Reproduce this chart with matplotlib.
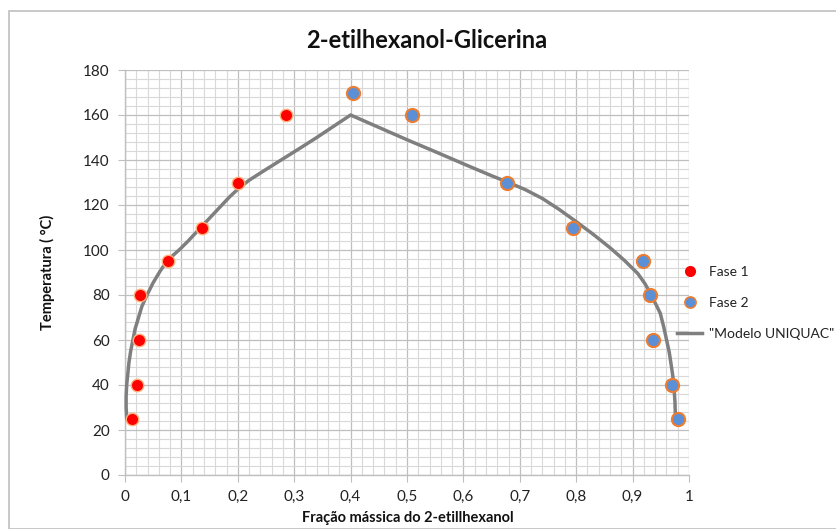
import matplotlib
matplotlib.use("Agg")
import matplotlib.pyplot as plt
from matplotlib.ticker import MultipleLocator, FuncFormatter
from matplotlib.lines import Line2D
from matplotlib.patches import Rectangle

plt.rcParams['font.family'] = ['Lato', 'DejaVu Sans']

# Data
fase1_x = [0.012, 0.021, 0.025, 0.027, 0.077, 0.137, 0.201, 0.286]
fase1_y = [25, 40, 60, 80, 95, 110, 130, 160]
fase2_x = [0.404, 0.509, 0.678, 0.795, 0.919, 0.931, 0.937, 0.969, 0.980]
fase2_y = [170, 160, 130, 110, 95, 80, 60, 40, 25]
model_x = [0.003, 0.002, 0.002, 0.003, 0.005, 0.007, 0.010, 0.014, 0.018, 0.024,
           0.030, 0.040, 0.050, 0.062, 0.074, 0.086, 0.098, 0.112, 0.125,
           0.140, 0.155, 0.170, 0.185, 0.200, 0.220, 0.250, 0.280, 0.310,
           0.340, 0.370, 0.400,
           0.450, 0.500, 0.550, 0.600, 0.650, 0.680, 0.710, 0.740, 0.770,
           0.800, 0.830, 0.860, 0.885, 0.909, 0.922, 0.932, 0.941, 0.949,
           0.955, 0.960, 0.965, 0.968, 0.971, 0.973, 0.975, 0.976]
model_y = [25, 30, 35, 40, 45, 50, 55, 60, 65, 70,
           75, 80.5, 85.5, 90.5, 95, 97.8, 100.5, 104, 107.5,
           111.5, 115.5, 119.5, 123.5, 127, 131, 135.8, 140.5, 145.2,
           150, 155, 160,
           154.5, 149, 143.7, 138.3, 133, 130, 126.8, 122.9, 118,
           112.6, 107, 101, 95.5, 89.6, 85, 80.4, 76, 71.9,
           66, 60.3, 54.5, 49.6, 44.5, 40.3, 33, 25.5]

title = "2-etilhexanol-Glicerina"
xlabel = "Fração mássica do 2-etillhexanol"
ylabel = "Temperatura ( °C)"
labels = ["Fase 1", "Fase 2", '"Modelo UNIQUAC"']

fig = plt.figure(figsize=(8.36, 5.29), dpi=100)
ax = fig.add_axes([125/836, 1-475/529, (689-125)/836, (475-70)/529])

# chart border
fig.patches.append(Rectangle((9/836, 0), 1, 1-11/529, transform=fig.transFigure,
                             fill=False, edgecolor='#BFBFBF', linewidth=1.2))

ax.set_xlim(0, 1)
ax.set_ylim(0, 180)
ax.xaxis.set_major_locator(MultipleLocator(0.1))
ax.xaxis.set_minor_locator(MultipleLocator(0.02))
ax.yaxis.set_major_locator(MultipleLocator(20))
ax.yaxis.set_minor_locator(MultipleLocator(4))

def fmt(v, pos):
    if abs(v) < 1e-9:
        return "0"
    if abs(v - 1) < 1e-9:
        return "1"
    return ("%.1f" % v).replace('.', ',')
ax.xaxis.set_major_formatter(FuncFormatter(fmt))

ax.grid(which='major', color='#BFBFBF', linewidth=0.9)
ax.grid(which='minor', color='#D9D9D9', linewidth=0.8)
ax.set_axisbelow(True)
for s in ['top', 'right']:
    ax.spines[s].set_visible(False)
for s in ['left', 'bottom']:
    ax.spines[s].set_color('#BFBFBF')
    ax.spines[s].set_linewidth(1.0)
ax.tick_params(which='major', length=5, color='#BFBFBF', labelsize=11, labelcolor='#222222')
ax.tick_params(which='minor', length=0)
ax.tick_params(axis='x', pad=6)
ax.tick_params(axis='y', pad=6)

ax.plot(model_x, model_y, color='#7F7F7F', linewidth=2.5, zorder=3, clip_on=False,
        solid_joinstyle='round')
ax.scatter(fase1_x, fase1_y, s=80, color='#FF0000', edgecolor='#FFB07A', linewidth=1.0, zorder=4, clip_on=False)
ax.scatter(fase2_x, fase2_y, s=90, color='#5B8FD6', edgecolor='#ED7D31', linewidth=1.5, zorder=4, clip_on=False)

fig.text(427/836, 1-40/529, title, ha='center', va='center', fontsize=17, fontweight='bold', color='#111111')
fig.text(47/836, 1-272/529, ylabel, ha='center', va='center', rotation=90, fontsize=10.5, fontweight='bold', color='#111111')
fig.text(408/836, 1-518/529, xlabel, ha='center', va='center', fontsize=10.5, fontweight='bold', color='#111111')

handles = [
    Line2D([], [], linestyle='none', marker='o', markersize=7, markerfacecolor='#FF0000', markeredgecolor='#FF0000'),
    Line2D([], [], linestyle='none', marker='o', markersize=8, markerfacecolor='#5B8FD6', markeredgecolor='#ED7D31', markeredgewidth=1.2),
    Line2D([], [], color='#7F7F7F', linewidth=2.5),
]
leg = fig.legend(handles, labels, loc='upper left', bbox_to_anchor=(677/836, 1-266/529),
                 frameon=False, fontsize=10, handlelength=1.8, handletextpad=0.5,
                 labelspacing=1.38, borderaxespad=0, borderpad=0)
for t in leg.get_texts():
    t.set_color('#222222')

fig.savefig("out.png", dpi=100)
